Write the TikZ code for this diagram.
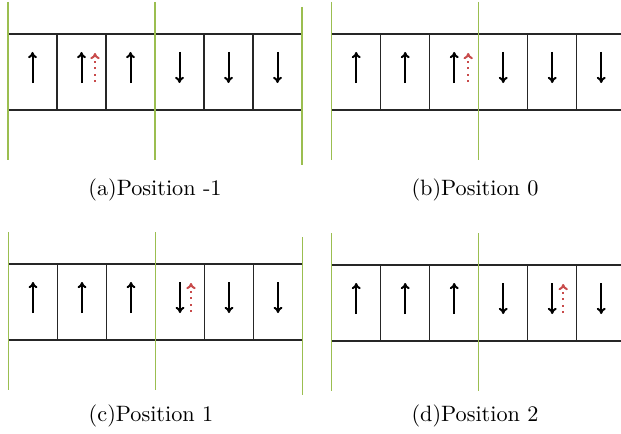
\documentclass[tikz,border=0pt]{standalone}
\usetikzlibrary{arrows.meta}
\definecolor{divgreen}{RGB}{155,190,80}
\definecolor{flipred}{RGB}{200,75,75}
\begin{document}
\begin{tikzpicture}[x=0.45pt,y=-0.45pt,
  cell/.style={draw=black!85,line width=0.7pt,minimum width=22.05pt,minimum height=34.2pt,inner sep=0pt,outer sep=0pt},
  divider/.style={draw=divgreen,line width=0.7pt},
  spin/.style={line width=0.9pt,-{To[length=2.8pt,width=4pt]}},
  flip/.style={draw=flipred,line width=0.9pt,dotted,-{To[length=2.8pt,width=4.2pt]}},
  caption/.style={font=\normalsize,inner sep=0pt}]
\useasboundingbox (0,0) rectangle (621,433);
\clip (0,0) rectangle (621,433);
\foreach \tag/\ox/\top/\fc/\off/\cx/\cy/\txt in {
  a/8/34/2/13.5/155/190/{(a)Position -1},
  b/331.7/34/3/14/475/190/{(b)Position 0},
  c/8.5/264/4/11/151/416/{(c)Position 1},
  d/331.7/265/5/11/475/416/{(d)Position 2}}{
  \foreach \i in {1,...,6}{
    \node[cell] (\tag-\i) at ({\ox+49*(\i-0.5)},{\top+38}) {};
    \ifnum\i<4
      \draw[spin] ({\ox+49*(\i-0.5)},{\top+49}) -- ({\ox+49*(\i-0.5)},{\top+18});
    \else
      \draw[spin] ({\ox+49*(\i-0.5)},{\top+18}) -- ({\ox+49*(\i-0.5)},{\top+49});
    \fi
  }
  \draw[flip] ({\ox+49*(\fc-0.5)+\off},{\top+48}) -- ({\ox+49*(\fc-0.5)+\off},{\top+19});
  \draw[divider] (\ox,{\top-32}) -- (\ox,{\top+126});
  \draw[divider] ({\ox+147},{\top-32}) -- ({\ox+147},{\top+126});
  \draw[divider] ({\ox+294},{\top-27}) -- ({\ox+294},{\top+131});
  \node[caption] (cap-\tag) at (\cx,\cy) {\txt};
}
\end{tikzpicture}
\end{document}
